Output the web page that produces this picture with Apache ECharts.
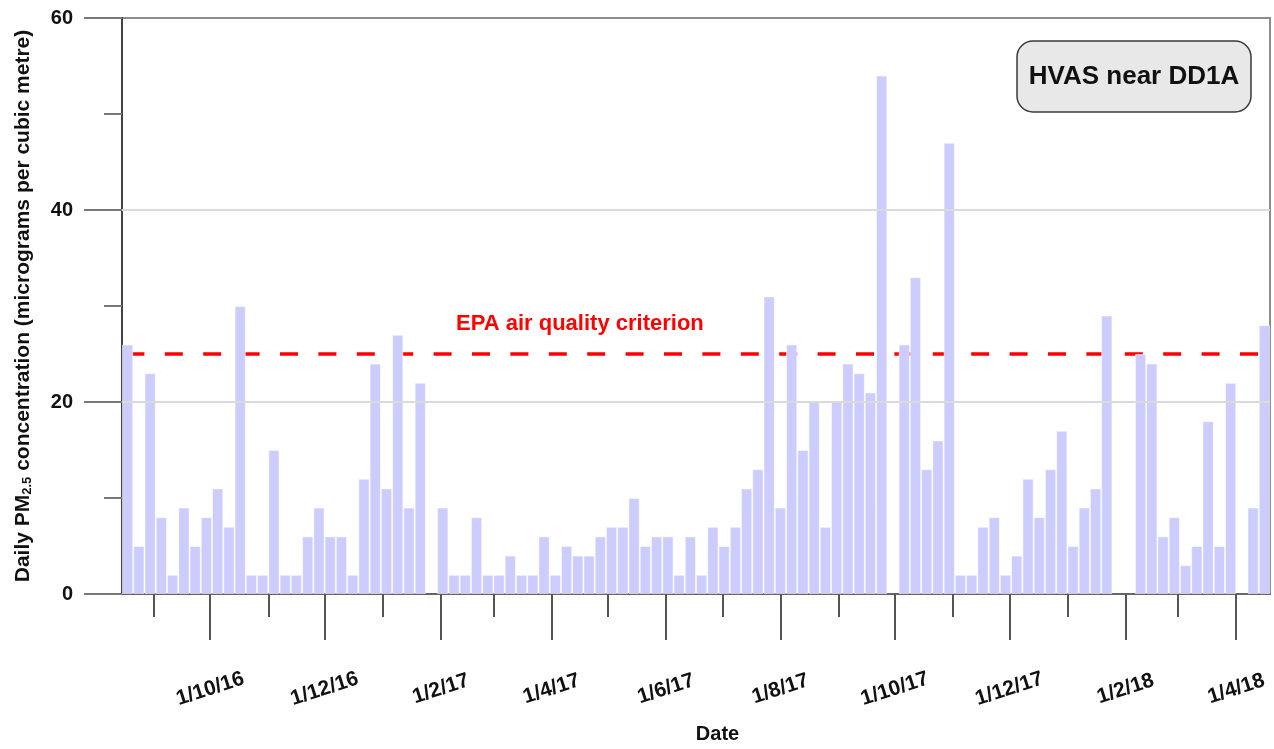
<!DOCTYPE html>
<html>
<head>
<meta charset="utf-8">
<script src="https://cdn.jsdelivr.net/npm/echarts@6/dist/echarts.min.js"></script>
<style>
  html, body { margin: 0; padding: 0; background: #ffffff; }
  #chart { width: 1274px; height: 749px; }
</style>
</head>
<body>
<div id="chart"></div>
<script>
// HVAS sampling days (1-in-6 day schedule, missed runs left out)
const sampleDates = [
  '2016-08-18','2016-08-24','2016-08-30','2016-09-05','2016-09-11','2016-09-17','2016-09-23','2016-09-29',
  '2016-10-05','2016-10-11','2016-10-17','2016-10-23','2016-10-29','2016-11-04','2016-11-10','2016-11-16',
  '2016-11-22','2016-11-28','2016-12-04','2016-12-10','2016-12-16','2016-12-22','2016-12-28','2017-01-03',
  '2017-01-09','2017-01-15','2017-01-21',
  '2017-02-02','2017-02-08','2017-02-14','2017-02-20','2017-02-26','2017-03-04','2017-03-10','2017-03-16',
  '2017-03-22','2017-03-28','2017-04-03','2017-04-09','2017-04-15','2017-04-21','2017-04-27','2017-05-03',
  '2017-05-09','2017-05-15','2017-05-21','2017-05-27','2017-06-02','2017-06-08','2017-06-14','2017-06-20',
  '2017-06-26','2017-07-02','2017-07-08','2017-07-14','2017-07-20','2017-07-26','2017-08-01','2017-08-07',
  '2017-08-13','2017-08-19','2017-08-25','2017-08-31','2017-09-06','2017-09-12','2017-09-18','2017-09-24',
  '2017-10-06','2017-10-12','2017-10-18','2017-10-24','2017-10-30','2017-11-05','2017-11-11','2017-11-17',
  '2017-11-23','2017-11-29','2017-12-05','2017-12-11','2017-12-17','2017-12-23','2017-12-29','2018-01-04',
  '2018-01-10','2018-01-16','2018-01-22',
  '2018-02-09','2018-02-15','2018-02-21','2018-02-27','2018-03-05','2018-03-11','2018-03-17','2018-03-23',
  '2018-03-29',
  '2018-04-10','2018-04-16'
];

// Daily PM2.5 (µg/m³) for each sampling day
const pm25 = [
  26, 5, 23, 8, 2, 9, 5, 8,
  11, 7, 30, 2, 2, 15, 2, 2,
  6, 9, 6, 6, 2, 12, 24, 11,
  27, 9, 22,
  9, 2, 2, 8, 2, 2, 4, 2,
  2, 6, 2, 5, 4, 4, 6, 7,
  7, 10, 5, 6, 6, 2, 6, 2,
  7, 5, 7, 11, 13, 31, 9, 26,
  15, 20, 7, 20, 24, 23, 21, 54,
  26, 33, 13, 16, 47, 2, 2, 7,
  8, 2, 4, 12, 8, 13, 17, 5,
  9, 11, 29,
  25, 24, 6, 8, 3, 5, 18, 5,
  22,
  9, 28
];

// Date axis: labelled ticks every second month, short ticks in between
const majorTicks = ['2016-10-01','2016-12-01','2017-02-01','2017-04-01','2017-06-01',
                    '2017-08-01','2017-10-01','2017-12-01','2018-02-01','2018-04-01'];
const minorTicks = ['2016-09-01','2016-11-01','2017-01-01','2017-03-01','2017-05-01',
                    '2017-07-01','2017-09-01','2017-11-01','2018-01-01','2018-03-01'];
const dateRange = ['2016-08-15', '2018-04-19'];

// Concentration axis
const yRange = [0, 60];
const yStep = 20;
const gridValues = [20, 40];
const criterion = 25;
const criterionLabel = 'EPA air quality criterion';
const siteLabel = 'HVAS near DD1A';

function toTime(s) {
  const p = s.split('-').map(Number);
  return new Date(p[0], p[1] - 1, p[2]).getTime();
}
function fmtDate(v) {
  const d = new Date(v);
  return d.getDate() + '/' + (d.getMonth() + 1) + '/' + String(d.getFullYear()).slice(2);
}

const sans = "'Liberation Sans', Arial, sans-serif";

const chart = echarts.init(document.getElementById('chart'), null, { renderer: 'canvas' });

const barData = sampleDates.map((d, i) => [toTime(d), pm25[i]]);
const xMin = toTime(dateRange[0]);
const xMax = toTime(dateRange[1]);

chart.setOption({
  animation: false,
  backgroundColor: '#ffffff',
  grid: {
    left: 122, right: 4, top: 18, bottom: 154,
    show: true, borderColor: '#8c8c8c', borderWidth: 2, backgroundColor: 'transparent'
  },
  xAxis: [
    {
      type: 'value', position: 'bottom', min: xMin, max: xMax, scale: true,
      name: 'Date', nameLocation: 'middle', nameGap: 130,
      nameTextStyle: { fontFamily: sans, fontWeight: 'bold', fontSize: 20, color: '#111', padding: [0, 0, 0, 43] },
      axisLine: { show: true, onZero: false, lineStyle: { color: '#666', width: 2 } },
      axisTick: { show: true, customValues: majorTicks.map(toTime), length: 46, lineStyle: { color: '#555', width: 2 } },
      axisLabel: {
        show: true, customValues: majorTicks.map(toTime), formatter: fmtDate,
        rotate: 18, align: 'center', verticalAlign: 'middle', margin: 95,
        fontFamily: sans, fontWeight: 'bold', fontSize: 21, color: '#111'
      },
      splitLine: { show: false }
    },
    {
      type: 'value', position: 'bottom', offset: 0, min: xMin, max: xMax, scale: true,
      axisLine: { show: false },
      axisTick: { show: true, customValues: minorTicks.map(toTime), length: 23, lineStyle: { color: '#555', width: 2 } },
      axisLabel: { show: false },
      splitLine: { show: false }
    }
  ],
  yAxis: {
    type: 'value', min: yRange[0], max: yRange[1], interval: yStep,
    name: 'Daily PM{s|2.5} concentration (micrograms per cubic metre)',
    nameLocation: 'middle', nameGap: 88, nameRotate: 90,
    nameTextStyle: {
      fontFamily: sans, fontWeight: 'bold', fontSize: 21, color: '#111',
      rich: {
        s: { fontFamily: sans, fontWeight: 'bold', fontSize: 13, color: '#111', verticalAlign: 'bottom', padding: [8, 0, 0, 0] }
      }
    },
    axisLine: { show: true, lineStyle: { color: '#444', width: 2 } },
    axisTick: { show: true, length: 38, lineStyle: { color: '#777', width: 2 } },
    minorTick: { show: true, splitNumber: 2, length: 18, lineStyle: { color: '#777', width: 2 } },
    axisLabel: { fontFamily: sans, fontWeight: 'bold', fontSize: 20, color: '#111', margin: 49 },
    splitLine: { show: false }
  },
  series: [
    {
      // criterion line sits underneath the bars
      type: 'line', data: [], z: 1, silent: true,
      markLine: {
        z: 1, silent: true, symbol: ['none', 'none'],
        lineStyle: { color: '#ff0000', width: 3.5, type: [18, 20.4], dashOffset: 34, opacity: 1 },
        label: {
          show: true, position: 'insideStartTop', distance: [334, 19],
          formatter: criterionLabel, color: '#ff0000',
          fontFamily: sans, fontWeight: 'bold', fontSize: 22
        },
        data: [{ yAxis: criterion }]
      }
    },
    {
      type: 'bar', z: 2, barWidth: '100%',
      data: barData,
      itemStyle: { color: '#ccccff', borderColor: 'rgba(255,255,255,0.5)', borderWidth: 1 },
      markLine: {
        z: 3, silent: true, symbol: ['none', 'none'],
        lineStyle: { color: '#dadada', width: 2, type: 'solid' },
        label: { show: false },
        data: gridValues.map(v => ({ yAxis: v }))
      }
    }
  ],
  graphic: [
    {
      type: 'rect', z: 10,
      shape: { x: 1017, y: 41, width: 234, height: 71, r: 16 },
      style: { fill: '#e8e8e8', stroke: '#3a3a3a', lineWidth: 1.5 }
    },
    {
      type: 'text', z: 11, x: 1134, y: 77,
      style: {
        text: siteLabel, fill: '#111', align: 'center', verticalAlign: 'middle',
        font: "bold 26px 'Liberation Sans', Arial, sans-serif"
      }
    }
  ]
});
</script>
</body>
</html>
